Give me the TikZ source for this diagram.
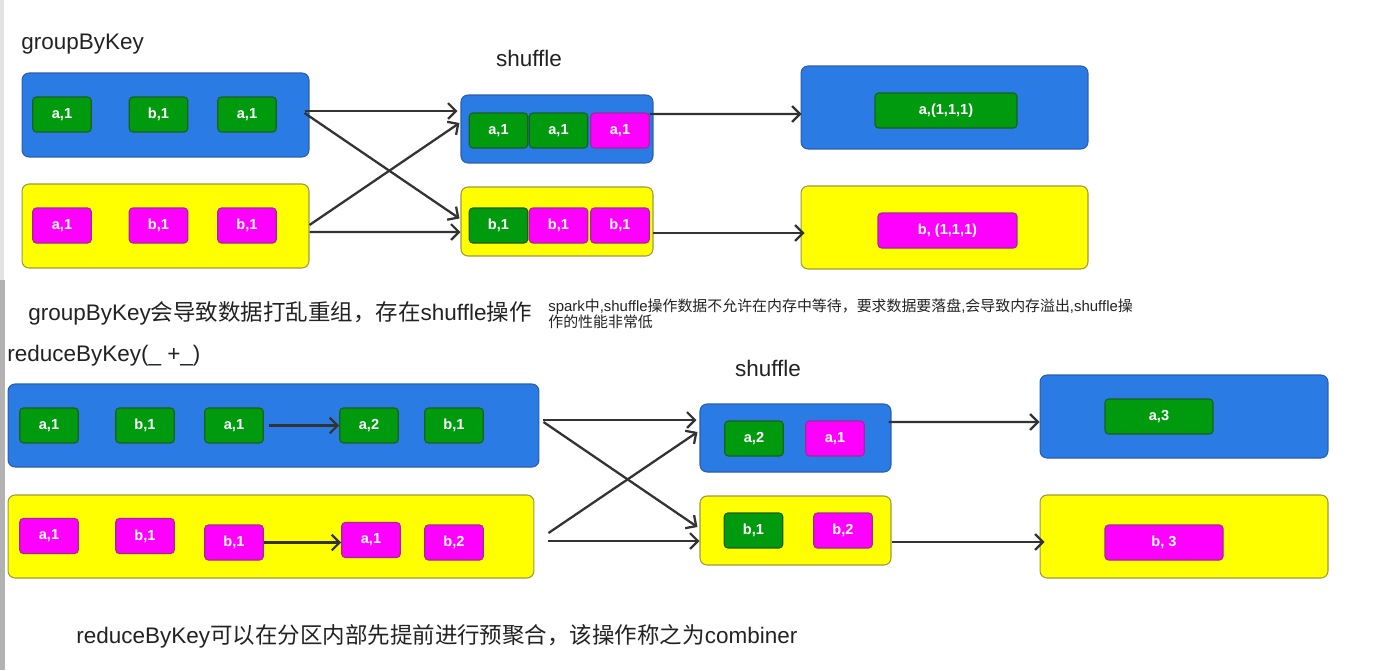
\documentclass[tikz,border=0pt]{standalone}
\usepackage{fontspec}
\setmainfont{Liberation Sans}
\newfontfamily\cjk{Noto Sans CJK SC}
\usetikzlibrary{arrows.meta, calc}
\definecolor{partblue}{HTML}{2B7BE4}
\definecolor{partblueline}{HTML}{2B5DAF}
\definecolor{partyellow}{HTML}{FFFF00}
\definecolor{partyellowline}{HTML}{9E9A3A}
\definecolor{kvgreenfill}{HTML}{009A0E}
\definecolor{kvgreenline}{HTML}{1C5E1C}
\definecolor{kvpinkfill}{HTML}{FF00FF}
\definecolor{kvpinkline}{HTML}{9C2A9C}
\definecolor{arrowgray}{HTML}{333333}
\definecolor{textgray}{HTML}{222222}

\begin{document}
\begin{tikzpicture}[x=0.02cm, y=-0.02cm,
    part/.style={rectangle, rounded corners=4pt, line width=0.6pt, inner sep=0pt},
    bluepart/.style={part, fill=partblue, draw=partblueline},
    yellowpart/.style={part, fill=partyellow, draw=partyellowline},
    kv/.style={rectangle, rounded corners=2pt, line width=0.6pt, inner sep=0pt,
      minimum width=1.17cm, minimum height=0.7cm, text=white,
      font=\fontsize{8.3}{9}\selectfont\bfseries},
    kvgreen/.style={kv, fill=kvgreenfill, draw=kvgreenline},
    kvpink/.style={kv, fill=kvpinkfill, draw=kvpinkline},
    flow/.style={-{Straight Barb[length=4.5pt, width=9pt]}, line width=1.3pt, arrowgray},
    caption/.style={anchor=west, inner sep=0pt, text=textgray, font=\fontsize{12.8}{15}\selectfont},
  ]
  \useasboundingbox (0,0) rectangle (1400,670);
  % Rand links
  \fill[gray!22] (0,0) rectangle (4,280);
  \fill[gray!60] (0,280) rectangle (5,670);

  % groupByKey: Partitionen
  \node[caption] (grpTitle) at (21,44) {groupByKey};
  \node[bluepart, minimum width=5.74cm, minimum height=1.68cm] (grpA) at (165.5,115) {};
  \node[kvgreen] (grpA1) at (62,114.5) {a,1};
  \node[kvgreen] (grpA2) at (158.5,114.5) {b,1};
  \node[kvgreen] (grpA3) at (247,114.5) {a,1};
  \node[yellowpart, minimum width=5.74cm, minimum height=1.68cm] (grpB) at (165.5,226) {};
  \node[kvpink] (grpB1) at (62,225.5) {a,1};
  \node[kvpink] (grpB2) at (158.5,225.5) {b,1};
  \node[kvpink] (grpB3) at (247,225.5) {b,1};

  % groupByKey: shuffle
  \node[caption, anchor=center] (grpShTitle) at (529,58) {shuffle};
  \node[bluepart, minimum width=3.84cm, minimum height=1.36cm] (grpShA) at (557,129) {};
  \node[kvgreen] (grpShA1) at (498.5,130.5) {a,1};
  \node[kvgreen] (grpShA2) at (558.5,130.5) {a,1};
  \node[kvpink] (grpShA3) at (620,130.5) {a,1};
  \node[yellowpart, minimum width=3.84cm, minimum height=1.38cm] (grpShB) at (557,221.5) {};
  \node[kvgreen] (grpShB1) at (498.5,225.5) {b,1};
  \node[kvpink] (grpShB2) at (558.5,225.5) {b,1};
  \node[kvpink] (grpShB3) at (620,225.5) {b,1};

  % groupByKey: Ergebnis
  \node[bluepart, minimum width=5.74cm, minimum height=1.66cm] (grpOutA) at (944.5,107.5) {};
  \node[kvgreen, minimum width=2.84cm] (grpOutA1) at (946,110.5) {a,(1,1,1)};
  \node[yellowpart, minimum width=5.74cm, minimum height=1.66cm] (grpOutB) at (944.5,227.5) {};
  \node[kvpink, minimum width=2.78cm] (grpOutB1) at (947.5,230.5) {b, (1,1,1)};

  % groupByKey: Pfeile
  \draw[flow] ($(grpA.east)+(-5,-4)$) -- ($(grpShA.west)+(-3,-18)$);
  \draw[flow] ($(grpA.east)+(-5,-2)$) -- ($(grpShB.west)+(-1,-3)$);
  \draw[flow] ($(grpB.east)+(0,-1)$) -- ($(grpShA.west)+(-1,-6)$);
  \draw[flow] ($(grpB.east)+(0,6)$) -- ($(grpShB.west)+(0,10.5)$);
  \draw[flow] ($(grpShA.east)+(-4,-15)$) -- ($(grpOutA.west)+(1,6.5)$);
  \draw[flow] ($(grpShB.east)+(-1,11.5)$) -- ($(grpOutB.west)+(4,5.5)$);

  % Anmerkungen
  \node[caption] (grpNote) at (28,313) {groupByKey{\cjk 会导致数据打乱重组，存在}shuffle{\cjk 操作}};
  \node[anchor=north west, align=left, inner sep=0pt, text=textgray,
    font=\fontsize{8.5}{9.6}\selectfont] (spillNote) at (548,298)
    {spark{\cjk 中},shuffle{\cjk 操作数据不允许在内存中等待，要求数据要落盘},{\cjk 会导致内存溢出},shuffle{\cjk 操}\\{\cjk 作的性能非常低}};

  % reduceByKey: Partitionen
  \node[caption] (redTitle) at (7,356) {reduceByKey(\_ +\_)};
  \node[bluepart, minimum width=10.62cm, minimum height=1.66cm] (redA) at (273.5,425.5) {};
  \node[kvgreen] (redA1) at (49,425.5) {a,1};
  \node[kvgreen] (redA2) at (145,425.5) {b,1};
  \node[kvgreen] (redA3) at (234,425.5) {a,1};
  \node[kvgreen] (redA4) at (369,425.5) {a,2};
  \node[kvgreen] (redA5) at (454,425.5) {b,1};
  \node[yellowpart, minimum width=10.52cm, minimum height=1.66cm] (redB) at (271,536.5) {};
  \node[kvpink] (redB1) at (49,536) {a,1};
  \node[kvpink] (redB2) at (145,536) {b,1};
  \node[kvpink] (redB3) at (234,542.5) {b,1};
  \node[kvpink] (redB4) at (371,540) {a,1};
  \node[kvpink] (redB5) at (454,542.5) {b,2};
  \draw[flow, shorten <=3pt] (redA3.east) -- (redA4.west);
  \draw[flow] (redB3.east) -- (redB3.east -| redB4.west);

  % reduceByKey: shuffle
  \node[caption, anchor=center] (redShTitle) at (768,368) {shuffle};
  \node[bluepart, minimum width=3.82cm, minimum height=1.36cm] (redShA) at (795.5,438) {};
  \node[kvgreen] (redShA1) at (754,438.5) {a,2};
  \node[kvpink] (redShA2) at (835,438.5) {a,1};
  \node[yellowpart, minimum width=3.82cm, minimum height=1.38cm] (redShB) at (795.5,530.5) {};
  \node[kvgreen] (redShB1) at (753.5,530.5) {b,1};
  \node[kvpink] (redShB2) at (843,530.5) {b,2};

  % reduceByKey: Ergebnis
  \node[bluepart, minimum width=5.76cm, minimum height=1.66cm] (redOutA) at (1184,416.5) {};
  \node[kvgreen, minimum width=2.16cm] (redOutA1) at (1159,416.5) {a,3};
  \node[yellowpart, minimum width=5.76cm, minimum height=1.66cm] (redOutB) at (1184,536.5) {};
  \node[kvpink, minimum width=2.36cm] (redOutB1) at (1164,542.5) {b, 3};

  % reduceByKey: Pfeile
  \draw[flow] ($(redA.east)+(4,-5.5)$) -- ($(redShA.west)+(-3,-18)$);
  \draw[flow] ($(redA.east)+(4,-3.5)$) -- ($(redShB.west)+(-2,-3.5)$);
  \draw[flow] ($(redB.east)+(14,-3.5)$) -- ($(redShA.west)+(-2,-6)$);
  \draw[flow] ($(redB.east)+(14,4.5)$) -- ($(redShB.west)+(0,10.5)$);
  \draw[flow] ($(redShA.east)+(-3,-16)$) -- ($(redOutA.west)+(0,5.5)$);
  \draw[flow] ($(redShB.east)+(0,11.5)$) -- ($(redOutB.west)+(5,5.5)$);

  \node[caption] (redNote) at (76,636) {reduceByKey{\cjk 可以在分区内部先提前进行预聚合，该操作称之为}combiner};
\end{tikzpicture}
\end{document}
